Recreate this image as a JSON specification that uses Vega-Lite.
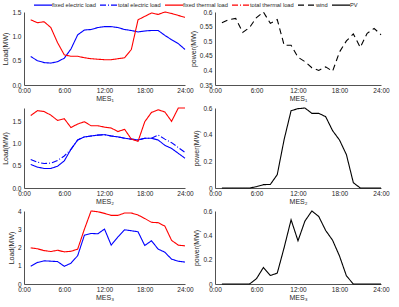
{
"$schema": "https://vega.github.io/schema/vega-lite/v6.json",
"padding": {"left": 1, "top": 1, "right": 2, "bottom": 0},
"bounds": "flush",
"columns": 2,
"spacing": {"row": 23, "column": 30},
"config": {
  "font": "Liberation Sans",
  "view": {"stroke": null},
  "axis": {"grid": false, "ticks": false, "labelFontSize": 6.5, "titleFontSize": 7, "titleFontWeight": "normal", "labelColor": "#262626", "titleColor": "#262626", "domainColor": "#262626", "domainWidth": 0.8, "labelFlush": false},
  "axisX": {"labelPadding": 2, "titlePadding": 1},
  "axisY": {"labelPadding": 3, "titlePadding": 3},
  "legend": {"orient": "none", "legendX": 15, "legendY": -11, "direction": "horizontal", "columns": 6, "symbolType": "M-3,0H3", "symbolSize": 36, "symbolStrokeWidth": 1.2, "labelFontSize": 5.7, "labelColor": "#262626", "columnPadding": 1, "labelOffset": 5, "padding": 0}
},
"data": {"values": [
{"p":"L1","s":"fixed electric load","h":1,"v":0.585},{"p":"L1","s":"fixed electric load","h":2,"v":0.50},{"p":"L1","s":"fixed electric load","h":3,"v":0.46},{"p":"L1","s":"fixed electric load","h":4,"v":0.45},{"p":"L1","s":"fixed electric load","h":5,"v":0.48},{"p":"L1","s":"fixed electric load","h":6,"v":0.55},{"p":"L1","s":"fixed electric load","h":7,"v":0.74},{"p":"L1","s":"fixed electric load","h":8,"v":1.03},{"p":"L1","s":"fixed electric load","h":9,"v":1.13},{"p":"L1","s":"fixed electric load","h":10,"v":1.14},{"p":"L1","s":"fixed electric load","h":11,"v":1.18},{"p":"L1","s":"fixed electric load","h":12,"v":1.20},{"p":"L1","s":"fixed electric load","h":13,"v":1.20},{"p":"L1","s":"fixed electric load","h":14,"v":1.18},{"p":"L1","s":"fixed electric load","h":15,"v":1.14},{"p":"L1","s":"fixed electric load","h":16,"v":1.12},{"p":"L1","s":"fixed electric load","h":17,"v":1.09},{"p":"L1","s":"fixed electric load","h":18,"v":1.11},{"p":"L1","s":"fixed electric load","h":19,"v":1.12},{"p":"L1","s":"fixed electric load","h":20,"v":1.12},{"p":"L1","s":"fixed electric load","h":21,"v":1.02},{"p":"L1","s":"fixed electric load","h":22,"v":0.93},{"p":"L1","s":"fixed electric load","h":23,"v":0.85},{"p":"L1","s":"fixed electric load","h":24,"v":0.73},
{"p":"L1","s":"fixed thermal load","h":1,"v":1.34},{"p":"L1","s":"fixed thermal load","h":2,"v":1.28},{"p":"L1","s":"fixed thermal load","h":3,"v":1.30},{"p":"L1","s":"fixed thermal load","h":4,"v":1.18},{"p":"L1","s":"fixed thermal load","h":5,"v":0.87},{"p":"L1","s":"fixed thermal load","h":6,"v":0.62},{"p":"L1","s":"fixed thermal load","h":7,"v":0.59},{"p":"L1","s":"fixed thermal load","h":8,"v":0.59},{"p":"L1","s":"fixed thermal load","h":9,"v":0.56},{"p":"L1","s":"fixed thermal load","h":10,"v":0.54},{"p":"L1","s":"fixed thermal load","h":11,"v":0.53},{"p":"L1","s":"fixed thermal load","h":12,"v":0.52},{"p":"L1","s":"fixed thermal load","h":13,"v":0.52},{"p":"L1","s":"fixed thermal load","h":14,"v":0.54},{"p":"L1","s":"fixed thermal load","h":15,"v":0.56},{"p":"L1","s":"fixed thermal load","h":16,"v":0.73},{"p":"L1","s":"fixed thermal load","h":17,"v":1.34},{"p":"L1","s":"fixed thermal load","h":18,"v":1.41},{"p":"L1","s":"fixed thermal load","h":19,"v":1.48},{"p":"L1","s":"fixed thermal load","h":20,"v":1.45},{"p":"L1","s":"fixed thermal load","h":21,"v":1.50},{"p":"L1","s":"fixed thermal load","h":22,"v":1.47},{"p":"L1","s":"fixed thermal load","h":23,"v":1.43},{"p":"L1","s":"fixed thermal load","h":24,"v":1.39},
{"p":"R1","s":"wind","h":1,"v":0.563},{"p":"R1","s":"wind","h":2,"v":0.574},{"p":"R1","s":"wind","h":3,"v":0.578},{"p":"R1","s":"wind","h":4,"v":0.530},{"p":"R1","s":"wind","h":5,"v":0.547},{"p":"R1","s":"wind","h":6,"v":0.581},{"p":"R1","s":"wind","h":7,"v":0.600},{"p":"R1","s":"wind","h":8,"v":0.561},{"p":"R1","s":"wind","h":9,"v":0.574},{"p":"R1","s":"wind","h":10,"v":0.486},{"p":"R1","s":"wind","h":11,"v":0.486},{"p":"R1","s":"wind","h":12,"v":0.445},{"p":"R1","s":"wind","h":13,"v":0.430},{"p":"R1","s":"wind","h":14,"v":0.409},{"p":"R1","s":"wind","h":15,"v":0.400},{"p":"R1","s":"wind","h":16,"v":0.412},{"p":"R1","s":"wind","h":17,"v":0.397},{"p":"R1","s":"wind","h":18,"v":0.463},{"p":"R1","s":"wind","h":19,"v":0.501},{"p":"R1","s":"wind","h":20,"v":0.525},{"p":"R1","s":"wind","h":21,"v":0.479},{"p":"R1","s":"wind","h":22,"v":0.527},{"p":"R1","s":"wind","h":23,"v":0.544},{"p":"R1","s":"wind","h":24,"v":0.522},
{"p":"L2","s":"fixed electric load","h":1,"v":0.53},{"p":"L2","s":"fixed electric load","h":2,"v":0.47},{"p":"L2","s":"fixed electric load","h":3,"v":0.44},{"p":"L2","s":"fixed electric load","h":4,"v":0.44},{"p":"L2","s":"fixed electric load","h":5,"v":0.49},{"p":"L2","s":"fixed electric load","h":6,"v":0.61},{"p":"L2","s":"fixed electric load","h":7,"v":0.87},{"p":"L2","s":"fixed electric load","h":8,"v":1.08},{"p":"L2","s":"fixed electric load","h":9,"v":1.15},{"p":"L2","s":"fixed electric load","h":10,"v":1.17},{"p":"L2","s":"fixed electric load","h":11,"v":1.19},{"p":"L2","s":"fixed electric load","h":12,"v":1.20},{"p":"L2","s":"fixed electric load","h":13,"v":1.17},{"p":"L2","s":"fixed electric load","h":14,"v":1.15},{"p":"L2","s":"fixed electric load","h":15,"v":1.12},{"p":"L2","s":"fixed electric load","h":16,"v":1.10},{"p":"L2","s":"fixed electric load","h":17,"v":1.08},{"p":"L2","s":"fixed electric load","h":18,"v":1.12},{"p":"L2","s":"fixed electric load","h":19,"v":1.12},{"p":"L2","s":"fixed electric load","h":20,"v":1.08},{"p":"L2","s":"fixed electric load","h":21,"v":0.96},{"p":"L2","s":"fixed electric load","h":22,"v":0.89},{"p":"L2","s":"fixed electric load","h":23,"v":0.78},{"p":"L2","s":"fixed electric load","h":24,"v":0.67},
{"p":"L2","s":"total electric load","h":1,"v":0.64},{"p":"L2","s":"total electric load","h":2,"v":0.58},{"p":"L2","s":"total electric load","h":3,"v":0.55},{"p":"L2","s":"total electric load","h":4,"v":0.56},{"p":"L2","s":"total electric load","h":5,"v":0.62},{"p":"L2","s":"total electric load","h":6,"v":0.72},{"p":"L2","s":"total electric load","h":7,"v":0.87},{"p":"L2","s":"total electric load","h":8,"v":1.08},{"p":"L2","s":"total electric load","h":9,"v":1.15},{"p":"L2","s":"total electric load","h":10,"v":1.17},{"p":"L2","s":"total electric load","h":11,"v":1.19},{"p":"L2","s":"total electric load","h":12,"v":1.20},{"p":"L2","s":"total electric load","h":13,"v":1.17},{"p":"L2","s":"total electric load","h":14,"v":1.15},{"p":"L2","s":"total electric load","h":15,"v":1.12},{"p":"L2","s":"total electric load","h":16,"v":1.10},{"p":"L2","s":"total electric load","h":17,"v":1.08},{"p":"L2","s":"total electric load","h":18,"v":1.12},{"p":"L2","s":"total electric load","h":19,"v":1.12},{"p":"L2","s":"total electric load","h":20,"v":1.19},{"p":"L2","s":"total electric load","h":21,"v":1.10},{"p":"L2","s":"total electric load","h":22,"v":1.02},{"p":"L2","s":"total electric load","h":23,"v":0.91},{"p":"L2","s":"total electric load","h":24,"v":0.80},
{"p":"L2","s":"fixed thermal load","h":1,"v":1.63},{"p":"L2","s":"fixed thermal load","h":2,"v":1.74},{"p":"L2","s":"fixed thermal load","h":3,"v":1.72},{"p":"L2","s":"fixed thermal load","h":4,"v":1.64},{"p":"L2","s":"fixed thermal load","h":5,"v":1.52},{"p":"L2","s":"fixed thermal load","h":6,"v":1.56},{"p":"L2","s":"fixed thermal load","h":7,"v":1.36},{"p":"L2","s":"fixed thermal load","h":8,"v":1.44},{"p":"L2","s":"fixed thermal load","h":9,"v":1.49},{"p":"L2","s":"fixed thermal load","h":10,"v":1.40},{"p":"L2","s":"fixed thermal load","h":11,"v":1.40},{"p":"L2","s":"fixed thermal load","h":12,"v":1.37},{"p":"L2","s":"fixed thermal load","h":13,"v":1.35},{"p":"L2","s":"fixed thermal load","h":14,"v":1.27},{"p":"L2","s":"fixed thermal load","h":15,"v":1.32},{"p":"L2","s":"fixed thermal load","h":16,"v":1.10},{"p":"L2","s":"fixed thermal load","h":17,"v":1.05},{"p":"L2","s":"fixed thermal load","h":18,"v":1.49},{"p":"L2","s":"fixed thermal load","h":19,"v":1.70},{"p":"L2","s":"fixed thermal load","h":20,"v":1.76},{"p":"L2","s":"fixed thermal load","h":21,"v":1.71},{"p":"L2","s":"fixed thermal load","h":22,"v":1.50},{"p":"L2","s":"fixed thermal load","h":23,"v":1.80},{"p":"L2","s":"fixed thermal load","h":24,"v":1.80},
{"p":"R2","s":"PV","h":1,"v":0},{"p":"R2","s":"PV","h":2,"v":0},{"p":"R2","s":"PV","h":3,"v":0},{"p":"R2","s":"PV","h":4,"v":0},{"p":"R2","s":"PV","h":5,"v":0},{"p":"R2","s":"PV","h":6,"v":0.01},{"p":"R2","s":"PV","h":7,"v":0.025},{"p":"R2","s":"PV","h":8,"v":0.027},{"p":"R2","s":"PV","h":9,"v":0.10},{"p":"R2","s":"PV","h":10,"v":0.365},{"p":"R2","s":"PV","h":11,"v":0.58},{"p":"R2","s":"PV","h":12,"v":0.595},{"p":"R2","s":"PV","h":13,"v":0.60},{"p":"R2","s":"PV","h":14,"v":0.56},{"p":"R2","s":"PV","h":15,"v":0.56},{"p":"R2","s":"PV","h":16,"v":0.535},{"p":"R2","s":"PV","h":17,"v":0.43},{"p":"R2","s":"PV","h":18,"v":0.36},{"p":"R2","s":"PV","h":19,"v":0.25},{"p":"R2","s":"PV","h":20,"v":0.04},{"p":"R2","s":"PV","h":21,"v":0},{"p":"R2","s":"PV","h":22,"v":0},{"p":"R2","s":"PV","h":23,"v":0},{"p":"R2","s":"PV","h":24,"v":0},
{"p":"L3","s":"fixed electric load","h":1,"v":0.97},{"p":"L3","s":"fixed electric load","h":2,"v":1.18},{"p":"L3","s":"fixed electric load","h":3,"v":1.27},{"p":"L3","s":"fixed electric load","h":4,"v":1.25},{"p":"L3","s":"fixed electric load","h":5,"v":1.23},{"p":"L3","s":"fixed electric load","h":6,"v":0.97},{"p":"L3","s":"fixed electric load","h":7,"v":1.14},{"p":"L3","s":"fixed electric load","h":8,"v":1.55},{"p":"L3","s":"fixed electric load","h":9,"v":2.67},{"p":"L3","s":"fixed electric load","h":10,"v":2.77},{"p":"L3","s":"fixed electric load","h":11,"v":2.75},{"p":"L3","s":"fixed electric load","h":12,"v":3.01},{"p":"L3","s":"fixed electric load","h":13,"v":2.13},{"p":"L3","s":"fixed electric load","h":14,"v":2.58},{"p":"L3","s":"fixed electric load","h":15,"v":2.97},{"p":"L3","s":"fixed electric load","h":16,"v":2.92},{"p":"L3","s":"fixed electric load","h":17,"v":2.86},{"p":"L3","s":"fixed electric load","h":18,"v":2.11},{"p":"L3","s":"fixed electric load","h":19,"v":2.37},{"p":"L3","s":"fixed electric load","h":20,"v":1.91},{"p":"L3","s":"fixed electric load","h":21,"v":1.74},{"p":"L3","s":"fixed electric load","h":22,"v":1.36},{"p":"L3","s":"fixed electric load","h":23,"v":1.25},{"p":"L3","s":"fixed electric load","h":24,"v":1.20},
{"p":"L3","s":"fixed thermal load","h":1,"v":1.98},{"p":"L3","s":"fixed thermal load","h":2,"v":1.93},{"p":"L3","s":"fixed thermal load","h":3,"v":1.83},{"p":"L3","s":"fixed thermal load","h":4,"v":1.78},{"p":"L3","s":"fixed thermal load","h":5,"v":1.85},{"p":"L3","s":"fixed thermal load","h":6,"v":1.76},{"p":"L3","s":"fixed thermal load","h":7,"v":1.79},{"p":"L3","s":"fixed thermal load","h":8,"v":1.91},{"p":"L3","s":"fixed thermal load","h":9,"v":3.0},{"p":"L3","s":"fixed thermal load","h":10,"v":4.0},{"p":"L3","s":"fixed thermal load","h":11,"v":3.96},{"p":"L3","s":"fixed thermal load","h":12,"v":3.87},{"p":"L3","s":"fixed thermal load","h":13,"v":3.76},{"p":"L3","s":"fixed thermal load","h":14,"v":3.76},{"p":"L3","s":"fixed thermal load","h":15,"v":3.89},{"p":"L3","s":"fixed thermal load","h":16,"v":3.89},{"p":"L3","s":"fixed thermal load","h":17,"v":3.78},{"p":"L3","s":"fixed thermal load","h":18,"v":3.59},{"p":"L3","s":"fixed thermal load","h":19,"v":3.38},{"p":"L3","s":"fixed thermal load","h":20,"v":3.36},{"p":"L3","s":"fixed thermal load","h":21,"v":3.17},{"p":"L3","s":"fixed thermal load","h":22,"v":2.39},{"p":"L3","s":"fixed thermal load","h":23,"v":2.13},{"p":"L3","s":"fixed thermal load","h":24,"v":2.09},
{"p":"R3","s":"PV","h":1,"v":0},{"p":"R3","s":"PV","h":2,"v":0},{"p":"R3","s":"PV","h":3,"v":0},{"p":"R3","s":"PV","h":4,"v":0},{"p":"R3","s":"PV","h":5,"v":0},{"p":"R3","s":"PV","h":6,"v":0.044},{"p":"R3","s":"PV","h":7,"v":0.136},{"p":"R3","s":"PV","h":8,"v":0.07},{"p":"R3","s":"PV","h":9,"v":0.089},{"p":"R3","s":"PV","h":10,"v":0.30},{"p":"R3","s":"PV","h":11,"v":0.528},{"p":"R3","s":"PV","h":12,"v":0.355},{"p":"R3","s":"PV","h":13,"v":0.517},{"p":"R3","s":"PV","h":14,"v":0.60},{"p":"R3","s":"PV","h":15,"v":0.555},{"p":"R3","s":"PV","h":16,"v":0.44},{"p":"R3","s":"PV","h":17,"v":0.36},{"p":"R3","s":"PV","h":18,"v":0.23},{"p":"R3","s":"PV","h":19,"v":0.067},{"p":"R3","s":"PV","h":20,"v":0},{"p":"R3","s":"PV","h":21,"v":0},{"p":"R3","s":"PV","h":22,"v":0},{"p":"R3","s":"PV","h":23,"v":0},{"p":"R3","s":"PV","h":24,"v":0}
]},
"resolve": {"scale": {"x": "independent", "y": "independent", "color": "shared", "strokeDash": "shared"}},
"concat": [
{"width": 161, "height": 73, "transform": [{"filter": "datum.p === 'L1'"}], "mark": {"type": "line", "strokeWidth": 1.1},
 "encoding": {
  "x": {"field": "h", "type": "quantitative", "scale": {"domain": [0, 24], "nice": false}, "axis": {"values": [0, 6, 12, 18, 24], "labelExpr": "datum.value + ':00'", "title": "MES₁"}},
  "y": {"field": "v", "type": "quantitative", "scale": {"domain": [0, 1.5], "nice": false, "zero": false}, "axis": {"values": [0, 0.5, 1, 1.5], "title": "Load(MW)"}},
  "color": {"field": "s", "type": "nominal", "scale": {"domain": ["fixed electric load", "total electric load", "fixed thermal load", "total thermal load", "wind", "PV"], "range": ["#0000ff", "#0000ff", "#ff0000", "#ff0000", "#000000", "#000000"]}, "legend": {"title": null}},
  "strokeDash": {"field": "s", "type": "nominal", "scale": {"domain": ["fixed electric load", "total electric load", "fixed thermal load", "total thermal load", "wind", "PV"], "range": [[1, 0], [6, 2, 1, 2], [1, 0], [6, 2, 1, 2], [6, 4], [1, 0]]}, "legend": {"title": null}}
 }},
{"width": 166, "height": 73, "transform": [{"filter": "datum.p === 'R1'"}], "mark": {"type": "line", "strokeWidth": 1.1},
 "encoding": {
  "x": {"field": "h", "type": "quantitative", "scale": {"domain": [0, 24], "nice": false}, "axis": {"values": [0, 6, 12, 18, 24], "labelExpr": "datum.value + ':00'", "title": "MES₁"}},
  "y": {"field": "v", "type": "quantitative", "scale": {"domain": [0.35, 0.6], "nice": false, "zero": false}, "axis": {"values": [0.35, 0.4, 0.45, 0.5, 0.55, 0.6], "format": "~g", "title": "power(MW)"}},
  "color": {"field": "s", "type": "nominal", "scale": {"domain": ["fixed electric load", "total electric load", "fixed thermal load", "total thermal load", "wind", "PV"], "range": ["#0000ff", "#0000ff", "#ff0000", "#ff0000", "#000000", "#000000"]}, "legend": {"title": null}},
  "strokeDash": {"field": "s", "type": "nominal", "scale": {"domain": ["fixed electric load", "total electric load", "fixed thermal load", "total thermal load", "wind", "PV"], "range": [[1, 0], [6, 2, 1, 2], [1, 0], [6, 2, 1, 2], [6, 4], [1, 0]]}, "legend": {"title": null}}
 }},
{"width": 161, "height": 80, "transform": [{"filter": "datum.p === 'L2'"}], "mark": {"type": "line", "strokeWidth": 1.1},
 "encoding": {
  "x": {"field": "h", "type": "quantitative", "scale": {"domain": [0, 24], "nice": false}, "axis": {"values": [0, 6, 12, 18, 24], "labelExpr": "datum.value + ':00'", "title": "MES₂"}},
  "y": {"field": "v", "type": "quantitative", "scale": {"domain": [0, 1.8], "nice": false, "zero": false}, "axis": {"values": [0, 0.5, 1, 1.5], "title": "Load(MW)"}},
  "color": {"field": "s", "type": "nominal", "scale": {"domain": ["fixed electric load", "total electric load", "fixed thermal load", "total thermal load", "wind", "PV"], "range": ["#0000ff", "#0000ff", "#ff0000", "#ff0000", "#000000", "#000000"]}, "legend": {"title": null}},
  "strokeDash": {"field": "s", "type": "nominal", "scale": {"domain": ["fixed electric load", "total electric load", "fixed thermal load", "total thermal load", "wind", "PV"], "range": [[1, 0], [6, 2, 1, 2], [1, 0], [6, 2, 1, 2], [6, 4], [1, 0]]}, "legend": {"title": null}}
 }},
{"width": 166, "height": 80, "transform": [{"filter": "datum.p === 'R2'"}], "mark": {"type": "line", "strokeWidth": 1.1},
 "encoding": {
  "x": {"field": "h", "type": "quantitative", "scale": {"domain": [0, 24], "nice": false}, "axis": {"values": [0, 6, 12, 18, 24], "labelExpr": "datum.value + ':00'", "title": "MES₂"}},
  "y": {"field": "v", "type": "quantitative", "scale": {"domain": [0, 0.6], "nice": false, "zero": false}, "axis": {"values": [0, 0.2, 0.4, 0.6], "format": "~g", "title": "power(MW)"}},
  "color": {"field": "s", "type": "nominal", "scale": {"domain": ["fixed electric load", "total electric load", "fixed thermal load", "total thermal load", "wind", "PV"], "range": ["#0000ff", "#0000ff", "#ff0000", "#ff0000", "#000000", "#000000"]}, "legend": {"title": null}},
  "strokeDash": {"field": "s", "type": "nominal", "scale": {"domain": ["fixed electric load", "total electric load", "fixed thermal load", "total thermal load", "wind", "PV"], "range": [[1, 0], [6, 2, 1, 2], [1, 0], [6, 2, 1, 2], [6, 4], [1, 0]]}, "legend": {"title": null}}
 }},
{"width": 161, "height": 73, "transform": [{"filter": "datum.p === 'L3'"}], "mark": {"type": "line", "strokeWidth": 1.1},
 "encoding": {
  "x": {"field": "h", "type": "quantitative", "scale": {"domain": [0, 24], "nice": false}, "axis": {"values": [0, 6, 12, 18, 24], "labelExpr": "datum.value + ':00'", "title": "MES₃"}},
  "y": {"field": "v", "type": "quantitative", "scale": {"domain": [0, 4], "nice": false, "zero": false}, "axis": {"values": [0, 1, 2, 3, 4], "title": "Load(MW)"}},
  "color": {"field": "s", "type": "nominal", "scale": {"domain": ["fixed electric load", "total electric load", "fixed thermal load", "total thermal load", "wind", "PV"], "range": ["#0000ff", "#0000ff", "#ff0000", "#ff0000", "#000000", "#000000"]}, "legend": {"title": null}},
  "strokeDash": {"field": "s", "type": "nominal", "scale": {"domain": ["fixed electric load", "total electric load", "fixed thermal load", "total thermal load", "wind", "PV"], "range": [[1, 0], [6, 2, 1, 2], [1, 0], [6, 2, 1, 2], [6, 4], [1, 0]]}, "legend": {"title": null}}
 }},
{"width": 166, "height": 73, "transform": [{"filter": "datum.p === 'R3'"}], "mark": {"type": "line", "strokeWidth": 1.1},
 "encoding": {
  "x": {"field": "h", "type": "quantitative", "scale": {"domain": [0, 24], "nice": false}, "axis": {"values": [0, 6, 12, 18, 24], "labelExpr": "datum.value + ':00'", "title": "MES₃"}},
  "y": {"field": "v", "type": "quantitative", "scale": {"domain": [0, 0.6], "nice": false, "zero": false}, "axis": {"values": [0, 0.2, 0.4, 0.6], "format": "~g", "title": "power(MW)"}},
  "color": {"field": "s", "type": "nominal", "scale": {"domain": ["fixed electric load", "total electric load", "fixed thermal load", "total thermal load", "wind", "PV"], "range": ["#0000ff", "#0000ff", "#ff0000", "#ff0000", "#000000", "#000000"]}, "legend": {"title": null}},
  "strokeDash": {"field": "s", "type": "nominal", "scale": {"domain": ["fixed electric load", "total electric load", "fixed thermal load", "total thermal load", "wind", "PV"], "range": [[1, 0], [6, 2, 1, 2], [1, 0], [6, 2, 1, 2], [6, 4], [1, 0]]}, "legend": {"title": null}}
 }}
]
}
